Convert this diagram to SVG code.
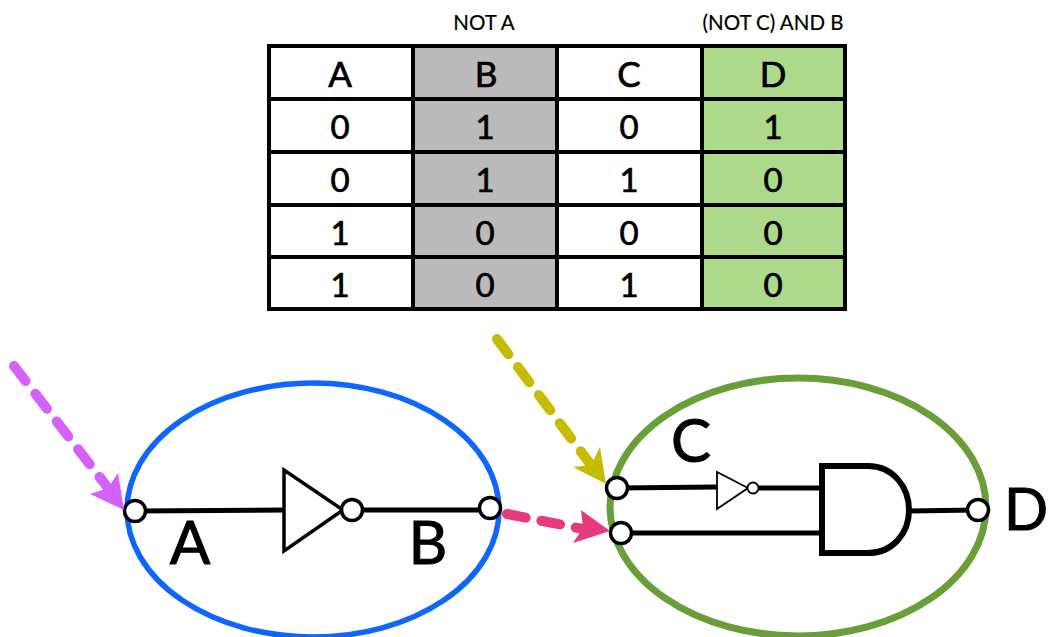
<svg xmlns="http://www.w3.org/2000/svg" width="1049" height="637" viewBox="0 0 1049 637">
<style>
text{font-family:"Lato","Open Sans","Liberation Sans",sans-serif;fill:#000;stroke:#000;text-anchor:middle}
.h{font-size:20.5px;stroke-width:.2}
.c{font-size:35px;stroke-width:.7}
.v{font-size:33px;stroke-width:.7}
.big{font-size:60px;stroke-width:1}
.grid{stroke:#000;stroke-width:4;fill:none}
.wire{stroke:#000;stroke-width:5;fill:none}
.port{fill:#fff;stroke:#000;stroke-width:3.5}
.gate{fill:#fff;stroke:#000;stroke-linejoin:miter}
.dash{fill:none;stroke-width:10;stroke-linecap:round;stroke-dasharray:19 16}
</style>
<rect width="1049" height="637" fill="#fff"/>
<g id="truth-table">
<rect x="413" y="45" width="144" height="264" fill="#bbbbbb"/>
<rect x="702" y="45" width="143" height="264" fill="#aed98a"/>
<rect class="grid" x="269" y="46" width="576" height="263"/>
<path class="grid" d="M413 46V309M557 46V309M702 46V309M269 99H845M269 152H845M269 205H845M269 257H845"/>
<text class="h" x="484" y="30">NOT A</text>
<text class="h" x="773" y="30">(NOT C) AND B</text>
<text class="c" x="340" y="87">A</text><text class="c" x="486" y="87">B</text><text class="c" x="629" y="87">C</text><text class="c" x="773" y="87">D</text>
<text class="v" x="340" y="139">0</text><text class="v" x="485" y="139">1</text><text class="v" x="629" y="139">0</text><text class="v" x="773" y="139">1</text>
<text class="v" x="340" y="192">0</text><text class="v" x="485" y="192">1</text><text class="v" x="629" y="192">1</text><text class="v" x="773" y="192">0</text>
<text class="v" x="340" y="245">1</text><text class="v" x="485" y="245">0</text><text class="v" x="629" y="245">0</text><text class="v" x="773" y="245">0</text>
<text class="v" x="340" y="297">1</text><text class="v" x="485" y="297">0</text><text class="v" x="629" y="297">1</text><text class="v" x="773" y="297">0</text>
</g>
<g id="not-block">
<ellipse cx="313" cy="510" rx="186" ry="127" fill="none" stroke="#0f66ff" stroke-width="5.5"/>
<path class="wire" d="M135 511 284 510M352 510H490"/>
<path class="gate" stroke-width="3.5" d="M284 470V551L343 510Z"/>
<circle class="port" cx="135" cy="511" r="10.5"/>
<circle class="port" cx="352" cy="510" r="10.5"/>
<circle class="port" cx="490" cy="508" r="10.5"/>
<text class="big" x="190" y="564">A</text>
<text class="big" x="428" y="564">B</text>
</g>
<g id="and-block">
<ellipse cx="798" cy="507" rx="188" ry="129" fill="none" stroke="#699e39" stroke-width="7"/>
<path class="wire" d="M617 488 717 487M753 488H822M620 533H822M908 511 978 510"/>
<path class="gate" stroke-width="1.8" d="M717 472V509L748 488Z"/>
<circle class="gate" stroke-width="1.8" cx="753" cy="488" r="5.5"/>
<path class="gate" stroke-width="6" d="M822 466H868C893 466 909 487 909 510C909 533 893 553 868 553H822Z"/>
<circle class="port" cx="617" cy="488" r="10.5"/>
<circle class="port" cx="621" cy="533" r="10.5"/>
<circle class="port" cx="978" cy="510" r="10.5"/>
<text class="big" x="691" y="462">C</text>
<text class="big" x="1048" y="530" style="text-anchor:end;font-size:58px">D</text>
</g>
<g id="connectors">
<path class="dash" stroke="#d462fa" d="M14 366 108 488"/>
<path fill="#d462fa" d="M124 510 90 494 108 488 118 473Z"/>
<path class="dash" stroke="#c5bc00" d="M497 339 591 465"/>
<path fill="#c5bc00" d="M606 484 573 467 591 465 600 447Z"/>
<path class="dash" stroke="#e73a7c" stroke-dasharray="16 17" d="M507 514 583 529"/>
<path fill="#e73a7c" d="M610 531 573 543 583 528 581 510Z"/>
</g>
</svg>
